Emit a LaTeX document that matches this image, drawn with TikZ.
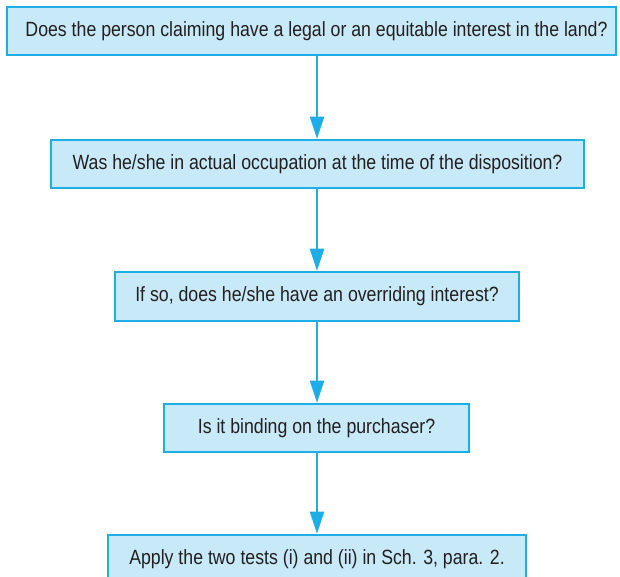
\documentclass[tikz,border=0pt]{standalone}
\usepackage{fontspec}
\setmainfont{Liberation Sans}[FakeStretch=0.86]
\usetikzlibrary{arrows.meta}
\definecolor{boxfill}{HTML}{C8E9F8}
\definecolor{boxline}{HTML}{1DAEE8}
\definecolor{txt}{HTML}{231F20}
\tikzset{
  qbox/.style={draw=boxline, line width=1.6pt, fill=boxfill, text=txt,
    font=\fontsize{20.6}{24}\selectfont, inner sep=0pt, minimum height=48pt},
  flow/.style={draw=boxline, line width=2.2pt,
    -{Triangle[length=22pt, width=14pt]}, shorten >=0.5pt}
}
\begin{document}
\begin{tikzpicture}[x=1pt, y=-1pt]
\useasboundingbox (0,0) rectangle (620,577);
\clip (0,0) rectangle (620,577);
\node[qbox, minimum width=609pt] (b1) at (311.5,31)
  {\hspace*{10pt}Does the person claiming have a legal or an equitable interest in the land?};
\node[qbox, minimum width=533pt] (b2) at (317.5,164)
  {Was he/she in actual occupation at the time of the disposition?};
\node[qbox, minimum width=404pt, minimum height=49pt] (b3) at (317,296.5)
  {If so, does he/she have an overriding interest?};
\node[qbox, minimum width=305pt] (b4) at (316.5,428)
  {Is it binding on the purchaser?};
\node[qbox, minimum width=418pt] (b5) at (317,559)
  {Apply the two tests (i) and (ii) in Sch. 3, para. 2.};
% all connectors run down one vertical line through the centre of b5
\coordinate (axis) at (b5.north);
\draw[flow] (b1.south -| axis) -- (b2.north -| axis);
\draw[flow] (b2.south -| axis) -- (b3.north -| axis);
\draw[flow] (b3.south -| axis) -- (b4.north -| axis);
\draw[flow] (b4.south -| axis) -- (b5.north);
\end{tikzpicture}
\end{document}
